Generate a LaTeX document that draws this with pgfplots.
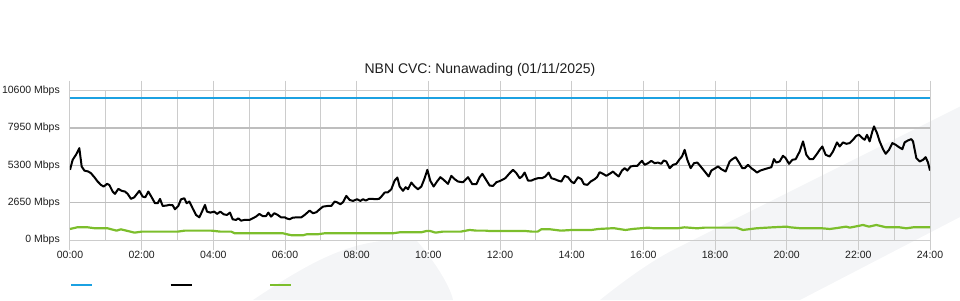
\documentclass[border=0pt]{standalone}
\usepackage{pgfplots}
\pgfplotsset{compat=1.18}
\usepackage{fontspec}
\setmainfont{Liberation Sans}
\definecolor{capblue}{RGB}{27,161,226}
\definecolor{utilgreen}{RGB}{124,190,44}
\definecolor{gridc}{RGB}{204,204,204}
\definecolor{gridd}{RGB}{190,190,190}
\definecolor{wm}{RGB}{244,245,247}
\definecolor{txt}{RGB}{30,30,30}
\begin{document}
\begin{tikzpicture}[x=1pt,y=1pt]
\path[use as bounding box] (0,0) rectangle (960,300);
\fill[wm] (600,0) .. controls (625,20) and (650,38) .. (673,50) -- (960,193.5) -- (960,83) -- (800,0) -- cycle;
\fill[wm] (253,0) .. controls (310,38) and (350,60) .. (400,60) -- (417,59) .. controls (432,42) and (450,15) .. (453,0) -- cycle;
\begin{axis}[
  at={(70pt,60pt)}, anchor=south west,
  scale only axis, width=860pt, height=149.3pt,
  xmin=0, xmax=24, ymin=0, ymax=10600,
  scaled y ticks=false,
  xtick={0,2,...,24},
  xticklabels={00:00,02:00,04:00,06:00,08:00,10:00,12:00,14:00,16:00,18:00,20:00,22:00,24:00},
  minor xtick={1,3,...,23},
  ytick={2650,5300,7950},
  yticklabels={2650 Mbps,5300 Mbps,7950 Mbps},
  extra y ticks={0,10600},
  extra y tick labels={0 Mbps,10600 Mbps},
  extra y tick style={grid=none},
  xmajorgrids, xminorgrids, ymajorgrids,
  x grid style={gridc, line width=1pt},
  y grid style={gridd, line width=1.5pt},
  axis line style={gridc, line width=1pt},
  tick align=outside,
  major tick length=10pt, minor tick length=0pt,
  ytick style={draw=none},
  xtick style={gridc, line width=1pt},
  tick label style={font=\fontsize{10.5}{12}\selectfont, text=txt},
  /pgf/number format/assume math mode=true,
  yticklabel style={inner sep=0pt, anchor=east},
  xticklabel style={inner sep=0pt, anchor=north, yshift=-1pt},
  legend columns=3,
  legend style={draw=none, fill=none, at={(0,0)}, anchor=north west, yshift=-44pt,
    inner sep=0pt, outer sep=0pt, nodes={inner sep=0pt},
    /tikz/every even column/.append style={column sep=75.5pt}},
  legend image code/.code={\draw[#1] (0pt,0pt) -- (21pt,0pt);},
]
\addplot[capblue, line width=2pt] coordinates {(0,10050) (24,10050)};
\addlegendentry{}
\addplot[black, line width=2pt, line join=round] table {
x y
0 4980
0.074 5690
0.167 6050
0.26 6520
0.326 5220
0.4 4930
0.512 4860
0.586 4740
0.679 4460
0.772 4150
0.865 3910
0.94 3795
1.033 3985
1.098 3910
1.19 3440
1.256 3275
1.349 3630
1.442 3490
1.535 3440
1.609 3275
1.702 2920
1.795 3036
1.935 3490
2.028 3080
2.102 3036
2.186 3440
2.279 3036
2.372 2610
2.447 2610
2.512 2920
2.586 2420
2.679 2440
2.772 2490
2.865 2470
2.93 2180
3.023 2420
3.098 2890
3.19 2965
3.256 2610
3.33 2730
3.423 2250
3.516 1780
3.609 1610
3.684 2015
3.767 2490
3.823 2015
3.916 1945
4.028 2015
4.102 1850
4.195 2015
4.288 1826
4.381 1780
4.465 1945
4.54 1470
4.633 1423
4.698 1540
4.772 1375
4.865 1423
5.005 1423
5.098 1540
5.19 1660
5.284 1850
5.377 1700
5.47 1700
5.535 1945
5.609 1660
5.702 1900
5.795 1780
5.888 1610
6.0 1610
6.037 1540
6.130 1470
6.223 1590
6.363 1610
6.456 1610
6.549 1780
6.688 2090
6.781 1900
6.874 1970
6.967 2180
7.060 2370
7.200 2420
7.293 2420
7.386 2730
7.451 2680
7.544 2540
7.618 2680
7.711 3130
7.804 2845
7.897 2775
8.009 2895
8.102 2775
8.177 2895
8.251 2800
8.344 2920
8.437 2920
8.530 2895
8.623 2920
8.688 3080
8.781 3370
8.874 3390
8.967 3605
9.060 4220
9.135 4435
9.200 3795
9.293 3490
9.367 3750
9.433 3605
9.526 4080
9.619 3795
9.711 3605
9.805 3795
9.897 4390
9.972 4980
10.056 4200
10.149 3795
10.242 4150
10.335 4460
10.428 4270
10.549 3985
10.642 4555
10.735 4320
10.828 4150
10.967 4100
11.107 4460
11.228 3960
11.340 3960
11.433 4460
11.507 4700
11.600 4320
11.712 3865
11.805 3840
11.898 4100
12.009 4200
12.149 4390
12.270 4745
12.363 4980
12.456 4745
12.549 4390
12.614 4510
12.688 4790
12.781 4220
12.874 4220
12.967 4320
13.060 4390
13.172 4390
13.265 4510
13.358 4790
13.432 4390
13.525 4320
13.618 4220
13.711 4150
13.804 4555
13.897 4460
13.990 4150
14.065 4030
14.177 4460
14.270 4320
14.344 3960
14.437 3915
14.530 4150
14.642 4320
14.707 4460
14.781 4815
14.874 4700
14.967 4555
15.060 4700
15.153 4860
15.219 4700
15.311 4510
15.404 4930
15.479 5100
15.553 4930
15.646 5220
15.739 5265
15.832 5265
15.897 5455
15.963 5620
16.037 5335
16.130 5455
16.223 5620
16.316 5455
16.409 5500
16.502 5410
16.567 5645
16.642 5575
16.735 5100
16.828 5335
16.921 5410
17.014 5740
17.079 5930
17.153 6400
17.228 5690
17.321 5100
17.414 5455
17.507 5500
17.600 5220
17.693 4930
17.823 4510
17.898 4930
18.009 5100
18.084 5220
18.177 5030
18.297 4860
18.409 5575
18.484 5740
18.577 5880
18.670 5500
18.763 5100
18.828 5100
18.921 5335
19.014 5100
19.107 4930
19.172 4790
19.265 4930
19.386 5030
19.479 5100
19.572 5170
19.646 5740
19.711 5500
19.804 5575
19.897 5980
19.972 5810
20.065 5410
20.158 5690
20.251 5740
20.363 6285
20.456 7000
20.549 6050
20.642 5740
20.735 5740
20.828 6050
20.921 6400
20.995 6640
21.088 6050
21.200 5930
21.293 6285
21.405 6930
21.479 6640
21.572 6930
21.665 6830
21.758 6880
21.851 7115
21.944 7400
22.019 7470
22.112 7235
22.177 7115
22.242 7470
22.316 7000
22.391 7710
22.437 8065
22.521 7590
22.595 7000
22.688 6450
22.763 6120
22.856 6400
22.949 6880
23.042 6760
23.135 6590
23.228 6450
23.293 6930
23.386 7070
23.479 7160
23.526 7000
23.619 5810
23.712 5575
23.805 5690
23.879 5880
23.944 5500
24.0 4930
};
\addlegendentry{}
\addplot[utilgreen, line width=2.2pt, line join=round] table {
x y
0 783
0.2 900
0.5 900
0.7 830
1.05 830
1.3 664
1.42 759
1.8 522
2.0 593
3.0 593
3.2 664
3.95 664
4.2 593
4.5 593
4.6 474
5.95 474
6.1 380
6.2 332
6.5 332
6.6 403
6.9 403
7.1 474
9.0 474
9.2 545
9.8 545
9.95 640
10.05 640
10.2 522
10.4 593
10.9 593
11.15 711
11.35 664
11.6 664
11.7 640
12.7 640
12.9 593
13.05 593
13.15 759
13.4 759
13.7 664
14.0 711
14.55 711
14.75 783
15.1 830
15.2 830
15.5 711
15.7 783
16.13 877
16.3 830
16.95 830
17.15 900
17.5 830
17.7 877
18.6 877
18.78 711
19.15 830
19.6 900
20.0 948
20.1 900
20.4 830
21.0 830
21.2 783
21.35 830
21.66 948
21.76 877
22.13 1067
22.3 948
22.5 1067
22.78 900
23.15 900
23.34 830
23.53 900
24.0 900
};
\addlegendentry{}
\end{axis}
\node[font=\fontsize{14}{16}\selectfont, text=txt] at (480pt,230pt) {NBN CVC: Nunawading (01/11/2025)};
\end{tikzpicture}
\end{document}
